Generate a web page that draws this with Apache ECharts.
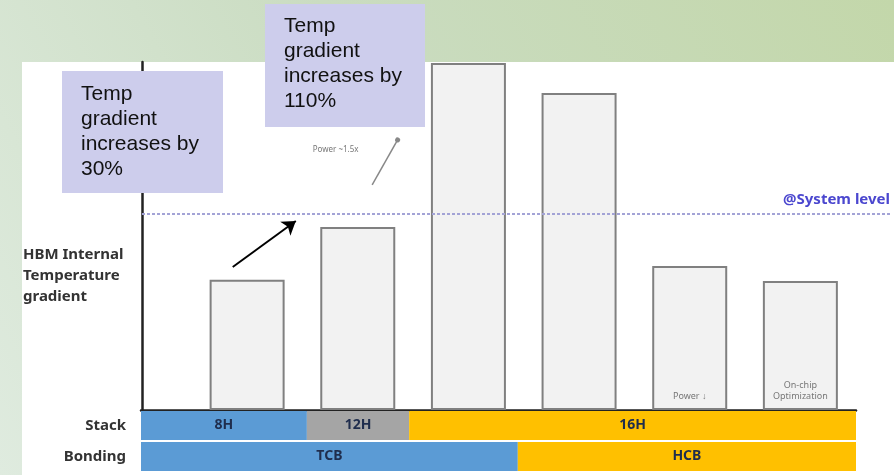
<!DOCTYPE html>
<html>
<head>
<meta charset="utf-8">
<script src="https://cdn.jsdelivr.net/npm/echarts@6/dist/echarts.min.js"></script>
<style>
html, body { margin: 0; padding: 0; }
#main { width: 894px; height: 475px; }
</style>
</head>
<body>
<div id="main"></div>
<script>
// bars (relative HBM internal temperature gradient)
var barNames = ['8H TCB', '12H TCB', '16H TCB', '16H TCB', '16H HCB', '16H HCB opt'];
var tempGradient = [37.4, 52.6, 99.7, 91.1, 41.4, 37.1];
var barNotes = ['', '', '', '', 'Power \u2193', 'On-chip\nOptimization'];
var systemLevel = 56.3;

// the two strips under the axis (share of the width, %)
var rowLabels = ['Stack', 'Bonding'];
var stackNames = ['8H', '12H', '16H'];
var stackShare = [23.2, 14.3, 62.5];
var stackColors = ['#5b9bd5', '#a5a5a5', '#ffc000'];
var bondNames = ['TCB', 'HCB'];
var bondShare = [52.7, 47.3];
var bondColors = ['#5b9bd5', '#ffc000'];

var myChart = echarts.init(document.getElementById('main'), null, { renderer: 'canvas' });

var stripLabel = { show: true, position: 'inside', color: '#1f2d4d', fontWeight: 'bold', fontSize: 14, fontFamily: 'Noto Sans' };
var stripSeries = [];
stackNames.forEach(function (n, i) {
    stripSeries.push({
        name: n, type: 'bar', xAxisIndex: 1, yAxisIndex: 1, stack: 'strip',
        barWidth: 29, itemStyle: { color: stackColors[i] },
        label: Object.assign({ formatter: n }, stripLabel),
        data: [stackShare[i], '-']
    });
});
bondNames.forEach(function (n, i) {
    stripSeries.push({
        name: n, type: 'bar', xAxisIndex: 1, yAxisIndex: 1, stack: 'strip',
        barWidth: 29, itemStyle: { color: bondColors[i] },
        label: Object.assign({ formatter: n }, stripLabel),
        data: ['-', bondShare[i]]
    });
});

var option = {
    animation: false,
    backgroundColor: new echarts.graphic.LinearGradient(1, 0, 0, 1, [
        { offset: 0, color: '#c3d7aa' },
        { offset: 0.5, color: '#cadcc1' },
        { offset: 1, color: '#dfebdf' }
    ]),
    graphic: [
        { type: 'rect', z: -1, shape: { x: 22, y: 62, width: 872, height: 413 }, style: { fill: '#ffffff' } },
        {
            type: 'text', x: 23, y: 244, z: 10,
            style: { text: 'HBM Internal\nTemperature\ngradient', font: 'bold 15px "Noto Sans"', lineHeight: 21, fill: '#333' }
        },
        { type: 'rect', z: 100, shape: { x: 62, y: 71, width: 161, height: 122 }, style: { fill: '#cdcdec' } },
        {
            type: 'text', x: 81, y: 82, z: 101,
            style: { text: 'Temp\ngradient\nincreases by\n30%', font: '21px "Liberation Sans"', lineHeight: 25, fill: '#111' }
        },
        { type: 'rect', z: 100, shape: { x: 265, y: 4, width: 160, height: 123 }, style: { fill: '#cdcdec' } },
        {
            type: 'text', x: 284, y: 14, z: 101,
            style: { text: 'Temp\ngradient\nincreases by\n110%', font: '21px "Liberation Sans"', lineHeight: 25, fill: '#111' }
        }
    ],
    grid: [
        { left: 142, right: 4, top: 62, bottom: 65 },
        { left: 141, right: 38, top: 410, height: 62 }
    ],
    xAxis: [
        { type: 'value', gridIndex: 0, min: 0.05, max: 6.81, show: false },
        {
            type: 'value', gridIndex: 1, min: 0, max: 100, position: 'top',
            axisLine: { show: true, lineStyle: { color: '#222', width: 2.5 } },
            axisTick: { show: false }, axisLabel: { show: false }, splitLine: { show: false }
        }
    ],
    yAxis: [
        {
            type: 'value', gridIndex: 0, min: 0, max: 100,
            axisLine: { show: true, lineStyle: { color: '#222', width: 2.5 } },
            axisTick: { show: false }, axisLabel: { show: false }, splitLine: { show: false }
        },
        {
            type: 'category', gridIndex: 1, data: rowLabels, inverse: true,
            axisLine: { show: false }, axisTick: { show: false },
            axisLabel: { margin: 15, color: '#333', fontWeight: 'bold', fontSize: 15, fontFamily: 'Noto Sans' }
        }
    ],
    series: [
        {
            name: 'HBM Internal Temperature gradient',
            type: 'bar',
            barWidth: 75,
            itemStyle: { color: '#f2f2f2', borderColor: '#808080', borderWidth: 2 },
            label: {
                show: true, position: 'insideBottom', distance: 8,
                color: '#777', fontSize: 9, lineHeight: 11, fontFamily: 'Noto Sans'
            },
            data: tempGradient.map(function (v, i) {
                return {
                    name: barNames[i],
                    value: [i + 1, v],
                    label: { show: barNotes[i] !== '', formatter: barNotes[i] }
                };
            }),
            markLine: {
                silent: true,
                symbol: 'none',
                data: [
                    {
                        yAxis: systemLevel,
                        lineStyle: { color: '#a3a3d6', type: [3, 2], width: 2 },
                        label: {
                            show: true, position: 'insideEndTop', formatter: '@System level',
                            color: '#4b47cf', fontWeight: 'bold', fontSize: 15, fontFamily: 'Noto Sans', distance: [0, 7]
                        }
                    },
                    [
                        { coord: [0.87, 41.1], symbol: 'none', lineStyle: { color: '#000', width: 2, type: 'solid' }, label: { show: false } },
                        { coord: [1.44, 54.3], symbol: 'arrow', symbolSize: 13 }
                    ],
                    [
                        { coord: [2.13, 64.7], symbol: 'none', lineStyle: { color: '#888', width: 1.5, type: 'solid' }, label: { show: false } },
                        { coord: [2.36, 77.6], symbol: 'circle', symbolSize: 5 }
                    ]
                ]
            },
            markPoint: {
                silent: true,
                symbol: 'circle', symbolSize: 1,
                itemStyle: { color: 'rgba(0,0,0,0)' },
                data: [
                    {
                        coord: [1.80, 74.7],
                        label: { show: true, position: 'inside', formatter: 'Power ~1.5x', color: '#777', fontSize: 8, fontFamily: 'Noto Sans' }
                    }
                ]
            }
        }
    ].concat(stripSeries)
};

myChart.setOption(option);
</script>
</body>
</html>
